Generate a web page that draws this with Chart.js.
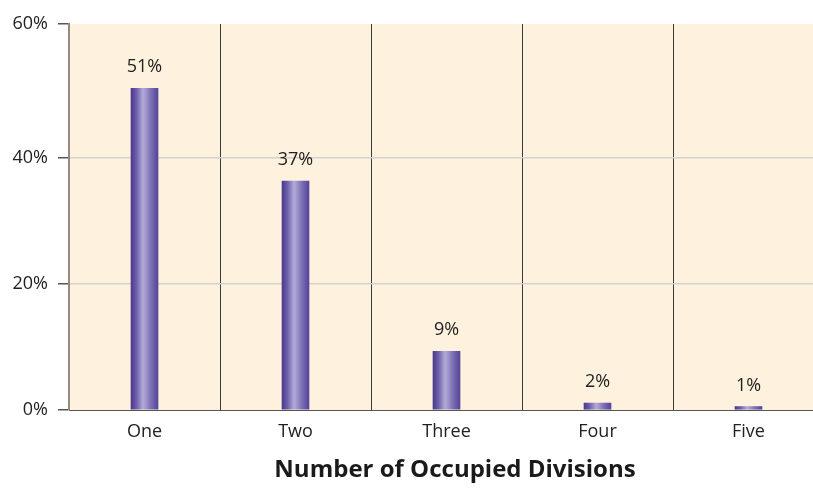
<!DOCTYPE html>
<html>
<head>
<meta charset="utf-8">
<script src="https://cdn.jsdelivr.net/npm/chart.js@4/dist/chart.umd.min.js"></script>
<style>
  html, body { margin: 0; padding: 0; background: #ffffff; overflow: hidden; }
  #wrap { width: 813px; height: 488px; position: relative; overflow: hidden; }
  #c { display: block; }
</style>
</head>
<body>
<div id="wrap"><canvas id="c" width="824" height="488"></canvas></div>
<script>
const categories = ["One", "Two", "Three", "Four", "Five"];
const shares = [51, 36.3, 9.3, 1.1, 0.55];
const valueLabels = ["51%", "37%", "9%", "2%", "1%"];
const yTickValues = [0, 20, 40, 61.2];
const yTickLabels = ["0%", "20%", "40%", "60%"];
const axisTitle = "Number of Occupied Divisions";

const FONT = "'Open Sans', 'Noto Sans', sans-serif";

const bgPlugin = {
  id: 'bgPlugin',
  beforeDraw(chart) {
    const { ctx, chartArea: a } = chart;
    ctx.save();
    ctx.fillStyle = '#FEF1DD';
    ctx.fillRect(a.left, a.top, a.right - a.left, a.bottom - a.top);
    ctx.restore();
  }
};

const labelPlugin = {
  id: 'labelPlugin',
  afterDatasetsDraw(chart) {
    const { ctx } = chart;
    const meta = chart.getDatasetMeta(0);
    ctx.save();
    ctx.fillStyle = '#222222';
    ctx.font = '18px ' + FONT;
    ctx.textAlign = 'center';
    ctx.textBaseline = 'alphabetic';
    meta.data.forEach((bar, i) => {
      ctx.fillText(valueLabels[i], bar.x, bar.y - 16);
    });
    ctx.restore();
  },
  afterDraw(chart) {
    const { ctx } = chart;
    ctx.save();
    ctx.fillStyle = '#1a1a1a';
    ctx.font = 'bold 24px ' + FONT;
    ctx.textAlign = 'center';
    ctx.textBaseline = 'middle';
    ctx.fillText(axisTitle, 455, 470);
    ctx.restore();
  }
};

function barGradient(context) {
  const chart = context.chart;
  const xs = chart.scales && chart.scales.x;
  if (!chart.chartArea || !xs || context.dataIndex === undefined) return '#6a5aa8';
  const cx = xs.getPixelForValue(context.dataIndex);
  const half = 13.5;
  const g = chart.ctx.createLinearGradient(cx - half, 0, cx + half, 0);
  g.addColorStop(0, '#4a3a8e');
  g.addColorStop(0.2, '#6d5fab');
  g.addColorStop(0.45, '#b3acd8');
  g.addColorStop(0.75, '#7a6cb2');
  g.addColorStop(1, '#54449a');
  return g;
}

new Chart(document.getElementById('c'), {
  type: 'bar',
  data: {
    labels: categories,
    datasets: [{
      data: shares,
      backgroundColor: barGradient,
      borderWidth: 0,
      barThickness: 27
    }]
  },
  options: {
    responsive: false,
    animation: false,
    events: [],
    layout: { padding: { top: 24, right: 0, left: 0, bottom: 0 } },
    plugins: { legend: { display: false }, tooltip: { enabled: false } },
    scales: {
      x: {
        offset: true,
        grid: {
          offset: true,
          color: '#3a3a3a',
          lineWidth: 1,
          drawTicks: false
        },
        border: { color: '#555555', width: 1 },
        ticks: {
          color: '#222222',
          font: { family: FONT, size: 18 },
          padding: 11,
          maxRotation: 0
        },
        afterFit(scale) { scale.height = 78; }
      },
      y: {
        min: 0,
        max: 61.2,
        afterBuildTicks(scale) {
          scale.ticks = yTickValues.map(v => ({ value: v }));
        },
        grid: {
          color: (c) => (c.tick && (c.tick.value === 20 || c.tick.value === 40)) ? '#d4d2cc' : 'rgba(0,0,0,0)',
          lineWidth: 1.5,
          drawTicks: true,
          tickLength: 11,
          tickColor: '#555555',
          tickWidth: 1.5
        },
        border: { color: '#958a80', width: 2 },
        ticks: {
          color: '#222222',
          font: { family: FONT, size: 18 },
          padding: 10,
          callback: (v, i) => yTickLabels[i]
        },
        afterFit(scale) { scale.width = 69; }
      }
    }
  },
  plugins: [bgPlugin, labelPlugin]
});
</script>
</body>
</html>
